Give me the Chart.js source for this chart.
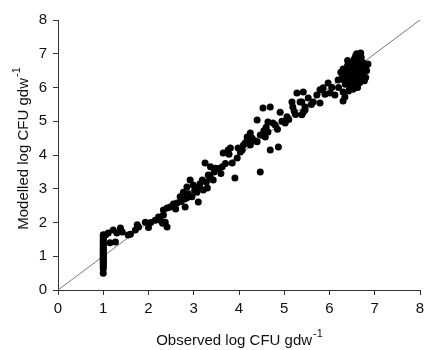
<!DOCTYPE html>
<html>
<head>
<meta charset="utf-8">
<script src="https://cdn.jsdelivr.net/npm/chart.js@4/dist/chart.umd.min.js"></script>
<style>
  html, body { margin:0; padding:0; background:#fff; }
  #wrap { width:424px; height:350px; position:relative; }
</style>
</head>
<body>
<div id="wrap"><canvas id="c"></canvas></div>
<script>
// observed vs modelled log CFU gdw-1, [observed, modelled]
const colAtOne = [
  [1,0.5],[1,0.62],[1,0.68],[1,0.72],[1,0.78],[1,0.82],[1,0.86],[1,0.9],[1,0.94],[1,0.98],
  [1,1.02],[1,1.06],[1,1.1],[1,1.14],[1,1.18],[1,1.22],[1,1.27],[1,1.32],[1,1.36],[1,1.4],
  [1,1.45],[1,1.5],[1,1.55],[1,1.6],[1,1.64],[1,0.95]
];
const lowRange = [
  [1.05,1.63],[1.11,1.69],[1.15,1.4],[1.22,1.78],[1.27,1.42],[1.3,1.69],[1.38,1.84],[1.42,1.72],
  [1.55,1.63],[1.6,1.65],[1.71,1.78],[1.75,1.93],[1.78,1.87],[1.93,2.01],[2.0,1.85],[2.05,2.0],
  [2.15,2.07],[2.22,2.16],[2.26,2.07],[2.31,1.98],[2.33,2.22],[2.37,2.01],[2.41,1.87],[2.33,2.37],
  [2.41,2.43],[2.48,2.46]
];
const midRange = [
  [2.55,2.55],[2.6,2.4],[2.63,2.58],[2.7,2.76],[2.72,2.62],[2.77,2.9],[2.8,2.7],[2.81,2.46],
  [2.85,2.73],[2.85,3.05],[2.88,2.85],[2.92,3.26],[2.96,2.76],[2.99,3.11],[3.02,2.95],[3.07,2.9],
  [3.1,2.61],[3.12,3.05],[3.14,3.15],[3.19,3.26],[3.21,2.96],[3.25,3.76],[3.28,3.2],[3.3,3.02],
  [3.32,3.41],[3.36,3.35],[3.37,3.65],[3.43,3.26],[3.45,3.5],[3.48,3.61],[3.54,3.6],[3.6,3.45],
  [3.63,3.65],[3.65,4.06],[3.7,3.75],[3.76,4.15],[3.78,4.02],[3.81,4.21],[3.85,3.76],[3.91,3.32],
  [3.96,3.91],[3.98,4.21],[4.03,4.09],[4.07,4.15],[4.1,4.3]
];
const highRange = [
  [4.14,4.36],[4.18,4.53],[4.2,4.45],[4.25,4.65],[4.25,4.3],[4.29,4.5],[4.35,4.42],[4.4,4.39],
  [4.4,5.04],[4.47,4.59],[4.47,3.5],[4.53,5.39],[4.55,4.72],[4.58,4.53],[4.6,4.82],[4.64,4.68],
  [4.64,4.98],[4.69,5.42],[4.69,4.15],[4.75,4.95],[4.8,4.89],[4.85,4.76],[4.87,4.24],[4.91,5.27],
  [4.95,5.0],[5.02,4.95],[5.06,5.13],[5.1,5.05],[5.17,5.57],[5.19,5.42],[5.22,5.3],[5.25,5.2]
];
const upperRange = [
  [5.28,5.84],[5.35,5.57],[5.39,5.57],[5.39,5.19],[5.42,5.87],[5.42,5.27],[5.46,5.33],[5.46,5.42],
  [5.53,5.69],[5.6,5.5],[5.64,5.57],[5.72,5.78],[5.79,5.93],[5.79,5.54],[5.86,5.99],[5.9,5.8],
  [5.97,6.13],[6.01,5.84],[6.05,6.0],[6.12,5.78],[6.19,6.22],[6.2,6.0],[6.3,5.87],[6.34,5.72],[6.3,5.6]
];
const topCluster = [
  [6.25,6.45],[6.28,6.3],[6.3,6.55],[6.33,6.2],
  [6.35,6.1],[6.38,6.3],[6.4,6.5],[6.42,6.2],[6.45,6.4],[6.45,6.0],[6.48,6.6],[6.5,6.3],
  [6.5,6.75],[6.52,6.1],[6.53,6.5],[6.55,6.85],[6.55,6.2],[6.58,6.4],[6.6,6.65],[6.6,7.0],
  [6.62,6.0],[6.62,6.3],[6.65,6.55],[6.65,6.8],[6.67,6.15],[6.68,6.45],[6.7,6.9],[6.7,6.6],
  [6.72,6.25],[6.73,6.75],[6.75,6.4],[6.75,6.55],[6.78,6.7],[6.8,6.3],[6.8,6.6],[6.82,6.5],
  [6.4,6.65],[6.42,5.9],[6.47,6.15],[6.52,5.95],[6.57,6.7],[6.6,6.45],[6.63,6.9],[6.68,6.65],
  [6.72,6.45],[6.77,6.2],[6.36,6.4],[6.44,6.55],[6.56,6.0],[6.64,6.25],[6.69,7.02],[6.58,6.95],
  [6.5,6.45],[6.7,6.35],[6.85,6.7],[6.4,6.8]
];
// 1:1 line
const lineObs = [0, 8];
const lineMod = [0, 8];
const xTitle = 'Observed log CFU gdw';
const yTitle = 'Modelled log CFU gdw';
const titleSup = '-1';

const allPts = [...colAtOne, ...lowRange, ...midRange, ...highRange, ...upperRange, ...topCluster]
  .map(p => ({x: p[0], y: p[1]}));

const FONT = 'Liberation Sans, Arial, sans-serif';

// axis titles with superscript -1
const titles = {
  id: 'titles',
  afterDraw(chart) {
    const { ctx, chartArea: a } = chart;
    ctx.save();
    ctx.fillStyle = '#111';
    ctx.textBaseline = 'alphabetic';
    const put = (txt) => {
      ctx.font = '15px ' + FONT;
      const w1 = ctx.measureText(txt).width;
      ctx.font = '11px ' + FONT;
      const w2 = ctx.measureText(titleSup).width;
      return [w1, w2];
    };
    // x title
    let [w1, w2] = put(xTitle);
    let cx = (a.left + a.right) / 2, x0 = cx - (w1 + w2) / 2;
    ctx.font = '15px ' + FONT; ctx.textAlign = 'left';
    ctx.fillText(xTitle, x0, 345);
    ctx.font = '11px ' + FONT;
    ctx.fillText(titleSup, x0 + w1 + 1, 337);
    // y title
    [w1, w2] = put(yTitle);
    const cy = (a.top + a.bottom) / 2 - 6;
    ctx.translate(28, cy);
    ctx.rotate(-Math.PI / 2);
    x0 = -(w1 + w2) / 2;
    ctx.font = '15px ' + FONT;
    ctx.fillText(yTitle, x0, 0);
    ctx.font = '11px ' + FONT;
    ctx.fillText(titleSup, x0 + w1 + 1, -8);
    ctx.restore();
  }
};

new Chart(document.getElementById('c'), {
  data: {
    datasets: [
      {
        type: 'line',
        data: lineObs.map((v, i) => ({x: v, y: lineMod[i]})),
        borderColor: '#7a7a7a', borderWidth: 1, pointRadius: 0, fill: false, order: 2
      },
      {
        type: 'scatter',
        data: allPts,
        backgroundColor: '#000', borderWidth: 0, pointRadius: 3.5, order: 1
      }
    ]
  },
  options: {
    responsive: true, maintainAspectRatio: false, animation: false,
    layout: { padding: { top: 20, right: 4, left: 0, bottom: 0 } },
    plugins: { legend: { display: false }, tooltip: { enabled: false } },
    scales: {
      x: {
        type: 'linear', min: 0, max: 8,
        ticks: { stepSize: 1, color: '#111', font: { family: FONT, size: 15 }, padding: 5, maxRotation: 0 },
        grid: { drawOnChartArea: false, tickLength: 5, color: '#333' },
        border: { color: '#333', width: 1 },
        afterFit(s) { s.height = 60; s.paddingLeft = 0; s.paddingRight = 0; }
      },
      y: {
        type: 'linear', min: 0, max: 8,
        ticks: { stepSize: 1, color: '#111', font: { family: FONT, size: 15 }, padding: 6 },
        grid: { drawOnChartArea: false, tickLength: 5, color: '#333' },
        border: { color: '#333', width: 1 },
        afterFit(s) { s.width = 58; s.paddingTop = 0; s.paddingBottom = 0; }
      }
    }
  },
  plugins: [titles]
});
</script>
</body>
</html>
